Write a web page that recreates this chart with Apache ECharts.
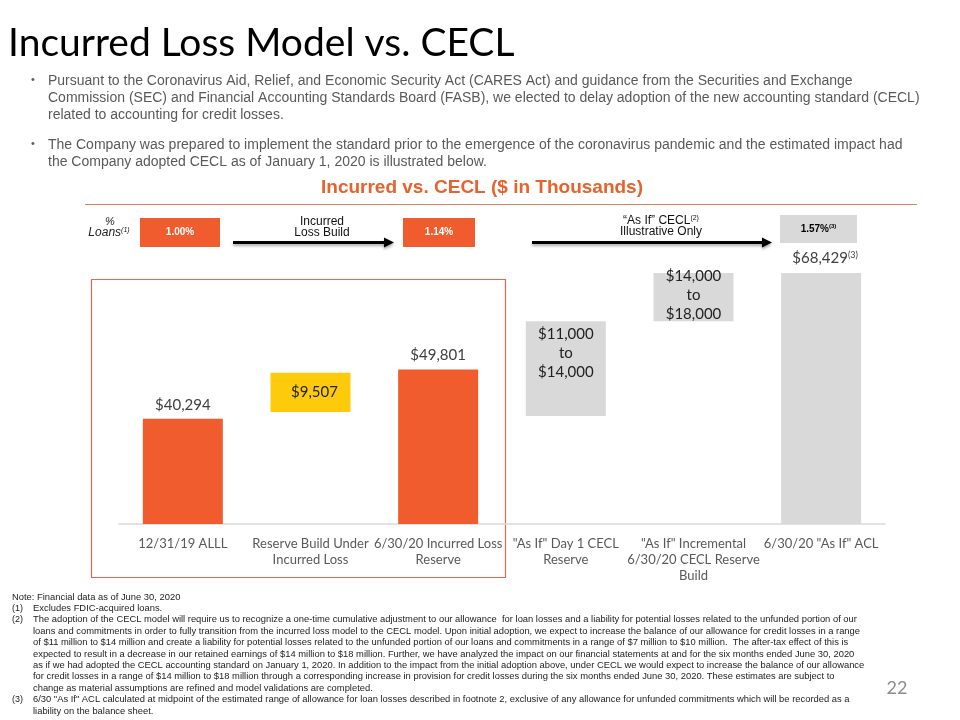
<!DOCTYPE html>
<html>
<head>
<meta charset="utf-8">
<script src="https://cdn.jsdelivr.net/npm/echarts@6/dist/echarts.min.js"></script>
<style>html,body{margin:0;padding:0;background:#fff}#c{width:960px;height:720px}</style>
</head>
<body>
<div id="c"></div>
<script>
// ---- data ----
const categories = ['12/31/19 ALLL', 'Reserve Build Under\nIncurred Loss', '6/30/20 Incurred Loss\nReserve', '"As If" Day 1 CECL\nReserve', '"As If" Incremental\n6/30/20 CECL Reserve\nBuild', '6/30/20 "As If" ACL'];
const barLow = [0, 41610, 0, 40840, 59120, 0];
const barHigh = [40294, 49190, 49801, 59120, 68429, 68429];
const barLabels = ['$40,294', '$9,507', '$49,801', '$11,000\nto\n$14,000', '$14,000\nto\n$18,000', '$68,429'];
const pctLoans = ['1.00%', '1.14%', '1.57%'];
const yMin = 20000, yMax = 80000;

const bulletLines = [
  ['Pursuant to the Coronavirus Aid, Relief, and Economic Security Act (CARES Act) and guidance from the Securities and Exchange', true],
  ['Commission (SEC) and Financial Accounting Standards Board (FASB), we elected to delay adoption of the new accounting standard (CECL)', false],
  ['related to accounting for credit losses.', false],
  ['The Company was prepared to implement the standard prior to the emergence of the coronavirus pandemic and the estimated impact had', true],
  ['the Company adopted CECL as of January 1, 2020 is illustrated below.', false]
];
const footLines = [
  ['', 'Note: Financial data as of June 30, 2020'],
  ['(1)', 'Excludes FDIC-acquired loans.'],
  ['(2)', 'The adoption of the CECL model will require us to recognize a one-time cumulative adjustment to our allowance  for loan losses and a liability for potential losses related to the unfunded portion of our'],
  ['', 'loans and commitments in order to fully transition from the incurred loss model to the CECL model. Upon initial adoption, we expect to increase the balance of our allowance for credit losses in a range'],
  ['', 'of $11 million to $14 million and create a liability for potential losses related to the unfunded portion of our loans and commitments in a range of $7 million to $10 million.  The after-tax effect of this is'],
  ['', 'expected to result in a decrease in our retained earnings of $14 million to $18 million. Further, we have analyzed the impact on our financial statements at and for the six months ended June 30, 2020'],
  ['', 'as if we had adopted the CECL accounting standard on January 1, 2020. In addition to the impact from the initial adoption above, under CECL we would expect to increase the balance of our allowance'],
  ['', 'for credit losses in a range of $14 million to $18 million through a corresponding increase in provision for credit losses during the six months ended June 30, 2020. These estimates are subject to'],
  ['', 'change as material assumptions are refined and model validations are completed.'],
  ['(3)', '6/30 "As If" ACL calculated at midpoint of the estimated range of allowance for loan losses described in footnote 2, exclusive of any allowance for unfunded commitments which will be recorded as a'],
  ['', 'liability on the balance sheet.']
];

// ---- styles ----
const ORANGE = '#F15C2F', YELLOW = '#FDCB0B', GRAY = '#D9D9D9';
const barColors = [ORANGE, YELLOW, ORANGE, GRAY, GRAY, GRAY];
const NARROW = '"Liberation Sans Narrow", "Arial Narrow", "Liberation Sans", sans-serif';
const ARIAL = '"Liberation Sans", Arial, sans-serif';
const CAL = 'Lato, "Open Sans", sans-serif';

const chart = echarts.init(document.getElementById('c'), null, {renderer: 'canvas'});

const graphics = [];
// title
graphics.push({type: 'text', x: 8, y: 43, style: {text: 'Incurred Loss Model vs. CECL', font: '39px ' + CAL, fill: '#000', verticalAlign: 'middle'}});
// bullets
const bulletY = [80, 97, 114, 144, 161];
bulletLines.forEach((b, i) => {
  if (b[1]) graphics.push({type: 'text', x: 31, y: bulletY[i], style: {text: '•', font: '11px ' + ARIAL, fill: '#595959', verticalAlign: 'middle'}});
  graphics.push({type: 'text', x: 48, y: bulletY[i] + 1, style: {text: b[0], font: '14px ' + NARROW, fill: '#595959', verticalAlign: 'middle'}});
});
// chart header
graphics.push({type: 'text', x: 482, y: 188, style: {text: 'Incurred vs. CECL ($ in Thousands)', font: 'bold 19px ' + NARROW, fill: '#E8622D', align: 'center', verticalAlign: 'middle'}});
graphics.push({type: 'line', shape: {x1: 85, y1: 204.5, x2: 917, y2: 204.5}, style: {stroke: '#D4835E', lineWidth: 1}});
// % loans
graphics.push({type: 'text', x: 110, y: 222, style: {text: '%', font: 'italic 11px ' + ARIAL, fill: '#222', align: 'center', verticalAlign: 'middle'}});
graphics.push({type: 'text', x: 109, y: 233, style: {text: '{a|Loans}{s|(1)}', align: 'center', verticalAlign: 'middle', rich: {a: {font: 'italic 12px ' + ARIAL, fill: '#222'}, s: {font: 'italic 7px ' + ARIAL, fill: '#222', verticalAlign: 'top', padding: [0, 0, 5, 0]}}}});
// pct boxes
const pctBoxes = [[140, 218, 80, 29, ORANGE, '#fff'], [403, 218, 72, 29, ORANGE, '#fff'], [780, 215, 77, 28, '#D9D9D9', '#000']];
pctBoxes.forEach((b, i) => {
  graphics.push({type: 'rect', shape: {x: b[0], y: b[1], width: b[2], height: b[3]}, style: {fill: b[4]}});
  const txt = i === 2 ? '{a|' + pctLoans[i] + '}{s|(3)}' : '{a|' + pctLoans[i] + '}';
  graphics.push({type: 'text', x: b[0] + b[2] / 2, y: b[1] + b[3] / 2, style: {text: txt, align: 'center', verticalAlign: 'middle', rich: {a: {font: 'bold 10px ' + ARIAL, fill: b[5]}, s: {font: 'bold 6px ' + ARIAL, fill: b[5], padding: [0, 0, 5, 0]}}}});
});
// arrows
function arrow(x1, x2, y) {
  graphics.push({type: 'line', shape: {x1: x1, y1: y, x2: x2 - 8, y2: y}, style: {stroke: '#000', lineWidth: 3, shadowBlur: 3, shadowColor: 'rgba(0,0,0,0.35)', shadowOffsetY: 2}});
  graphics.push({type: 'polygon', shape: {points: [[x2 - 10, y - 5], [x2, y], [x2 - 10, y + 5]]}, style: {fill: '#000', shadowBlur: 3, shadowColor: 'rgba(0,0,0,0.35)', shadowOffsetY: 2}});
}
arrow(233, 394, 242.5);
arrow(532, 772, 242.5);
graphics.push({type: 'text', x: 322, y: 222, style: {text: 'Incurred', font: '12px ' + ARIAL, fill: '#111', align: 'center', verticalAlign: 'middle'}});
graphics.push({type: 'text', x: 322, y: 233, style: {text: 'Loss Build', font: '12px ' + ARIAL, fill: '#111', align: 'center', verticalAlign: 'middle'}});
graphics.push({type: 'text', x: 661, y: 221, style: {text: '{a|\u201CAs If\u201D CECL}{s|(2)}', align: 'center', verticalAlign: 'middle', rich: {a: {font: '12px ' + ARIAL, fill: '#111'}, s: {font: '7px ' + ARIAL, fill: '#111', padding: [0, 0, 5, 0]}}}});
graphics.push({type: 'text', x: 661, y: 232, style: {text: 'Illustrative Only', font: '12px ' + ARIAL, fill: '#111', align: 'center', verticalAlign: 'middle'}});
// red outline
graphics.push({type: 'rect', shape: {x: 91.5, y: 279.5, width: 414, height: 298}, style: {fill: 'none', stroke: '#E8674F', lineWidth: 1.2}});
// footnotes
footLines.forEach((f, i) => {
  const y = 597 + i * 11.4;
  if (f[0]) graphics.push({type: 'text', x: 12, y: y, style: {text: f[0], font: '9px ' + ARIAL, fill: '#222', verticalAlign: 'middle'}});
  graphics.push({type: 'text', x: f[0] || i > 1 ? 33 : 12, y: y, style: {text: f[1], font: '9.4px ' + ARIAL, fill: '#222', verticalAlign: 'middle'}});
});
graphics.push({type: 'text', x: 897, y: 688, style: {text: '22', font: '18px ' + CAL, fill: '#8C8C8C', align: 'center', verticalAlign: 'middle'}});

const seriesData = categories.map((c, i) => [i, barLow[i], barHigh[i]]);

chart.setOption({
  animation: false,
  grid: {left: 119, right: 75, top: 213, bottom: 196},
  xAxis: {
    type: 'category', data: categories,
    axisLine: {lineStyle: {color: '#D9D9D9', width: 1.5}},
    axisTick: {show: false},
    axisLabel: {interval: 0, color: '#595959', fontFamily: CAL, fontSize: 13, lineHeight: 16, margin: 12}
  },
  yAxis: {type: 'value', min: yMin, max: yMax, show: false, splitLine: {show: false}},
  series: [{
    type: 'custom',
    data: seriesData,
    clip: true,
    renderItem: function (params, api) {
      const i = api.value(0);
      const lo = Math.max(api.value(1), yMin), hi = api.value(2);
      const pTop = api.coord([i, hi]), pBot = api.coord([i, lo]);
      const w = 80;
      const children = [{type: 'rect', shape: {x: pTop[0] - w / 2, y: pTop[1], width: w, height: pBot[1] - pTop[1]}, style: {fill: barColors[i]}}];
      const lab = barLabels[i];
      const base = {font: '15px ' + CAL, fill: '#404040', align: 'center'};
      if (i === 0 || i === 2) {
        children.push({type: 'text', x: pTop[0], y: pTop[1] - 14, style: Object.assign({text: lab, verticalAlign: 'middle'}, base)});
      } else if (i === 5) {
        children.push({type: 'text', x: pTop[0] + 4, y: pTop[1] - 15, style: {text: '{a|' + lab + '}{s|(3)}', align: 'center', verticalAlign: 'middle', rich: {a: {font: '15px ' + CAL, fill: '#404040'}, s: {font: '9px ' + CAL, fill: '#404040', padding: [0, 0, 6, 0]}}}});
      } else if (i === 1) {
        children.push({type: 'text', x: pTop[0] + 4, y: (pTop[1] + pBot[1]) / 2, style: Object.assign({text: lab, verticalAlign: 'middle'}, base, {fill: '#222'})});
      } else if (i === 3) {
        children.push({type: 'text', x: pTop[0], y: pTop[1] + 3, style: Object.assign({text: lab, verticalAlign: 'top', lineHeight: 19}, base, {fill: '#222'})});
      } else {
        children.push({type: 'text', x: pTop[0], y: (pTop[1] + pBot[1]) / 2 - 2, style: Object.assign({text: lab, verticalAlign: 'middle', lineHeight: 19}, base, {fill: '#222'})});
      }
      return {type: 'group', children: children};
    }
  }],
  graphic: graphics
});
</script>
</body>
</html>
